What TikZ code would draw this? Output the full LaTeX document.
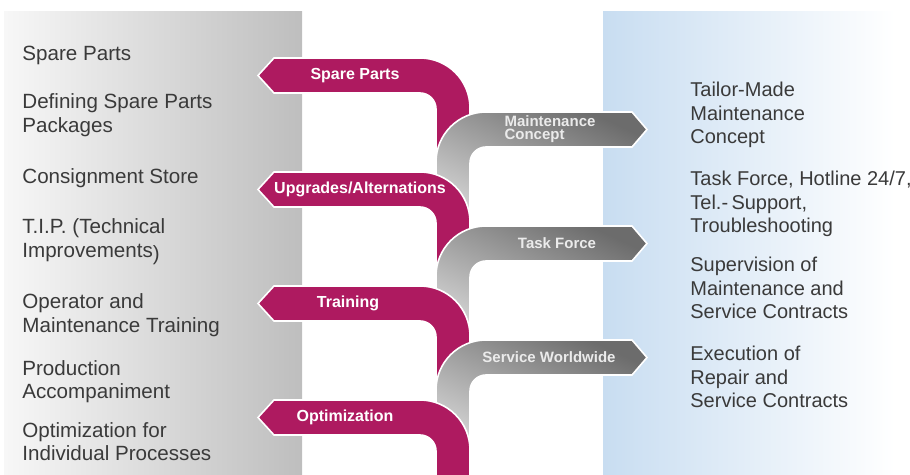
\documentclass[tikz,border=0pt]{standalone}
\usepackage{fontspec}
\setmainfont{Liberation Sans}
\definecolor{raspb}{RGB}{174,26,96}
\definecolor{txtgray}{RGB}{58,58,58}
\definecolor{graydark}{RGB}{108,108,108}
\definecolor{graylight}{RGB}{215,215,215}
\definecolor{panelgray}{RGB}{190,190,190}
\definecolor{panelblue}{RGB}{200,221,241}
\tikzset{
	sidetxt/.style={anchor=west,align=left,inner sep=0pt,text=txtgray,font=\fontsize{10}{11.75}\selectfont},
	bandlbl/.style={inner sep=0pt,text=white,font=\fontsize{8}{8}\selectfont\bfseries},
	graylbl/.style={inner sep=0pt,text=white!92!black,font=\fontsize{7.5}{6.6}\selectfont\bfseries},
	magband/.style={fill=raspb,draw=white,line width=0.8pt},
	grayband/.style={draw=white,line width=0.8pt,top color=graydark,bottom color=graylight,shading angle=-25}
}
\begin{document}
\begin{tikzpicture}[x=0.5pt,y=0.5pt]
	\useasboundingbox (0,0) rectangle (910,-475);
	\shade[left color=panelgray!12!white,right color=panelgray] (4,-12) rectangle (302,-475);
	\shade[left color=panelblue,right color=white] (603,-12) rectangle (895,-475);
	\foreach \k in {0,...,3}{
		\pgfmathsetmacro{\t}{-58-114*\k}
		\pgfmathsetmacro{\e}{\k<3 ? -168-114*\k : -482}
		\path[magband] (258,\t-17.5) -- (274,\t) -- (420,\t) arc[start angle=90,end angle=0,radius=50]
			-- (470,\e) -- (436,\e) -- (436,\t-51) arc[start angle=0,end angle=90,radius=16] -- (274,\t-35) -- cycle;
		\ifnum\k<3
			\pgfmathsetmacro{\g}{-112-114*\k}
			\pgfmathsetmacro{\f}{-228-114*\k}
			\path[grayband] (647,\g-17.5) -- (632,\g) -- (486,\g) arc[start angle=90,end angle=180,radius=50]
				-- (436,\f) -- (470,\f) -- (470,\g-51) arc[start angle=180,end angle=90,radius=16] -- (632,\g-35) -- cycle;
		\fi
	}
	\node[bandlbl] (mspare) at (355,-75.5) {Spare Parts};
	\node[bandlbl] (mupgr) at (360,-189.5) {Upgrades/Alternations};
	\node[bandlbl] (mtrain) at (348,-303.5) {Training};
	\node[bandlbl] (moptim) at (345,-417.5) {Optimization};
	\node[graylbl,align=left] (gmaint) at (550,-129) {Maintenance\\Concept};
	\node[graylbl] (gtask) at (557,-243.5) {Task Force};
	\node[graylbl] (gserv) at (549,-357.5) {Service Worldwide};
	\node[sidetxt,font=\fontsize{10.3}{11.75}\selectfont] (lspare) at (22,-55) {Spare Parts};
	\node[sidetxt,font=\fontsize{10.3}{11.75}\selectfont] (ldef) at (22,-115) {Defining Spare Parts\\Packages};
	\node[sidetxt,font=\fontsize{10.3}{11.75}\selectfont] (lcons) at (22,-178) {Consignment Store};
	\node[sidetxt,font=\fontsize{10.3}{11.75}\selectfont] (ltip) at (22,-241.5) {T.I.P. (Technical\\Improvements\raisebox{-1.5pt}{)}};
	\node[sidetxt,font=\fontsize{10.3}{11.75}\selectfont] (loper) at (22,-315) {Operator and\\Maintenance Training};
	\node[sidetxt,font=\fontsize{10.3}{11.75}\selectfont] (lprod) at (22,-381.5) {Production\\Accompaniment};
	\node[sidetxt,font=\fontsize{10.3}{11.75}\selectfont] (lopt) at (22,-441.5) {Optimization for\\Individual Processes};
	\node[sidetxt] (rtail) at (690,-115) {Tailor-Made\\Maintenance\\Concept};
	\node[sidetxt] (rtask) at (690,-204) {Task Force, Hotline 24/7,\\Tel.-\,Support,\\Troubleshooting};
	\node[sidetxt] (rsup) at (690,-288) {Supervision of\\Maintenance and\\Service Contracts};
	\node[sidetxt] (rexe) at (690,-377) {Execution of\\Repair and\\Service Contracts};
\end{tikzpicture}
\end{document}
